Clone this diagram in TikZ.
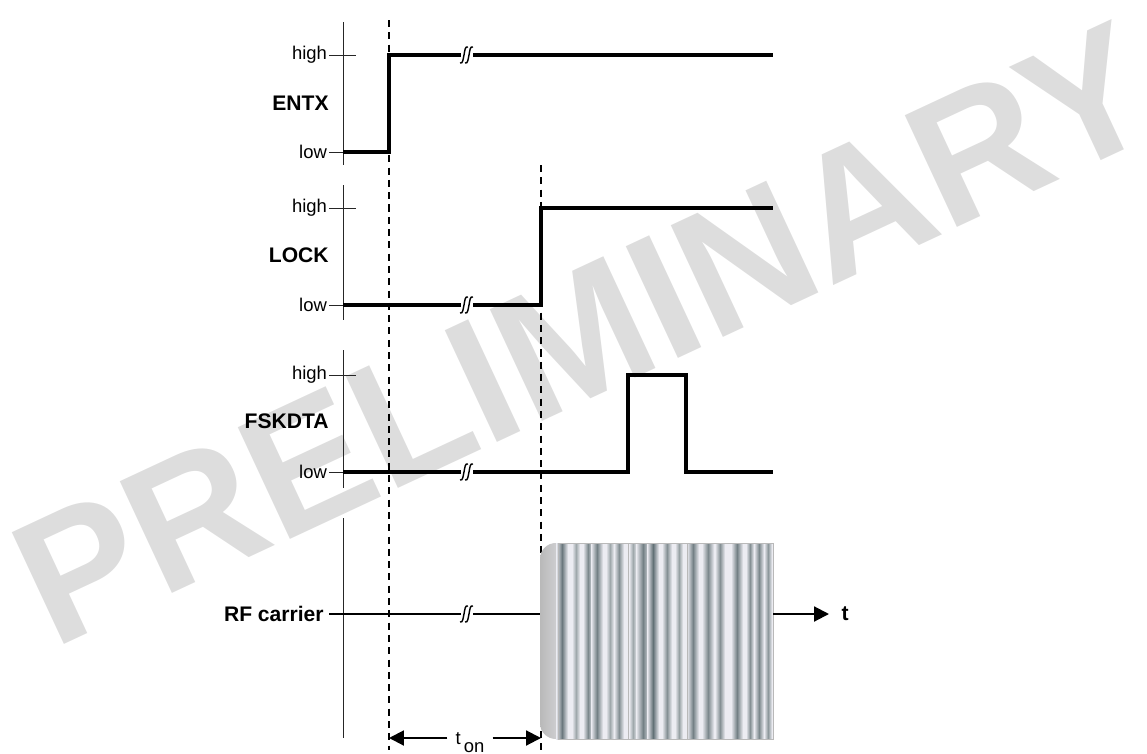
\documentclass[tikz,border=0pt]{standalone}
\usepackage{fontspec}
\setmainfont{Liberation Sans}
\usetikzlibrary{arrows.meta, positioning}

\definecolor{wmark}{RGB}{221,221,221}
\definecolor{stripe}{RGB}{80,96,102}
\definecolor{burst}{RGB}{236,236,242}

% break mark on a signal line
\newcommand{\sigbreak}[2]{%
  \begin{scope}[shift={(#1,#2)}]
    \draw[brkln] (-7,8) .. controls (-4,9) and (-4,4) .. (-3,0) .. controls (-2,-5) and (-2,-9) .. (1,-8);
    \draw[brkln] (-2,8) .. controls (1,9) and (1,4) .. (2,0) .. controls (3,-5) and (3,-9) .. (6,-8);
  \end{scope}}

\begin{document}
\begin{tikzpicture}[x=0.02cm, y=-0.02cm,
  lvl/.style={font=\fontsize{10.5}{12}\selectfont, anchor=east, inner sep=1pt},
  sig/.style={font=\fontsize{12}{14}\selectfont\bfseries, anchor=east, inner sep=0pt},
  axis/.style={line width=0.5pt, black!85},
  wave/.style={line width=2pt, line join=miter},
  guide/.style={line width=1.2pt, dash pattern=on 4pt off 3pt},
  brkln/.style={line width=0.8pt},
  tip/.style={-{Triangle[length=8.5pt, width=8.5pt]}, line width=1.2pt}]

  \useasboundingbox (0,0) rectangle (1147,754);

  % watermark
  \node[text=wmark, font=\fontsize{102}{102}\selectfont\bfseries, rotate=25] (wm) at (584,334) {PRELIMINARY};

  % axes
  \draw[axis] (343,22) -- (343,165);
  \draw[axis] (343,185) -- (343,320);
  \draw[axis] (343,350) -- (343,488);
  \draw[axis] (343,518) -- (343,738);

  % signal names
  \node[sig] (entx) at (329,103) {ENTX};
  \node[sig] (lock) at (329,255) {LOCK};
  \node[sig] (fsk) at (329,421) {FSKDTA};
  \node[sig] (rf) at (324,614) {RF carrier};

  % levels
  \node[lvl] (hiA) at (329,55) {high};
  \node[lvl] (loA) at (329,152) {low};
  \node[lvl] (hiB) at (329,208) {high};
  \node[lvl] (loB) at (329,305) {low};
  \node[lvl] (hiC) at (329,375) {high};
  \node[lvl] (loC) at (329,472) {low};
  \draw[axis] (hiA.east) -- (356,55);
  \draw[axis] (loA.east) -- (343,152);
  \draw[axis] (hiB.east) -- (356,208);
  \draw[axis] (loB.east) -- (343,305);
  \draw[axis] (hiC.east) -- (356,375);
  \draw[axis] (loC.east) -- (343,472);

  % time markers
  \draw[guide] (389,20) -- (389,750);
  \draw[guide] (541,165) -- (541,752);

  % ENTX
  \draw[wave] (343,152) -- (389,152) -- (389,55) -- (461,55);
  \draw[wave] (473,55) -- (773,55);
  \sigbreak{467}{55}

  % LOCK
  \draw[wave] (343,305) -- (461,305);
  \draw[wave] (473,305) -- (541,305) -- (541,208) -- (773,208);
  \sigbreak{467}{305}

  % FSKDTA
  \draw[wave] (343,472) -- (461,472);
  \draw[wave] (473,472) -- (628,472) -- (628,375) -- (686,375) -- (686,472) -- (773,472);
  \sigbreak{467}{472}

  % RF carrier
  \draw[line width=1.3pt] (rf.east) ++(3pt,0) -- (461,614);
  \draw[line width=1.3pt] (473,614) -- (541,614);
  \sigbreak{467}{614}

  % carrier burst
  \shade[left color=gray!55, right color=burst, rounded corners=9pt] (540,543) rectangle (580,739);
  \fill[burst] (558,543) rectangle (773,739);
  \foreach \x/\w/\d in {562/6/85, 576/4/55, 588/5/75, 597/6/80, 610/4/55, 619/5/70,
                        633/4/55, 643/7/80, 653/6/90, 667/5/70, 679/4/60, 693/6/80,
                        708/6/75, 720/5/70, 737/6/80, 750/4/70, 759/5/75, 768/4/65}
    \shade[left color=burst, right color=burst, middle color=stripe!\d!white] (\x-\w,543) rectangle (\x+\w,739);
  \draw[gray!55, line width=0.4pt] (558,543) rectangle (628,739) (628,543) rectangle (687,739) (687,543) rectangle (773,739);

  \coordinate (rfB) at (773,614);
  \coordinate (rfEnd) at (829,614);
  \draw[tip] (rfB) -- (rfEnd);
  \node[font=\fontsize{12}{14}\selectfont\bfseries, right=7pt of rfEnd, inner sep=0pt] (tt) {t};

  % t_on
  \coordinate (tA) at (389,738);
  \coordinate (tB) at (541,738);
  \node[font=\fontsize{10.5}{12}\selectfont, anchor=base, inner sep=4.5pt] (ton) at (470,744) {t\,\raisebox{-0.45em}{on}};
  \draw[tip] (ton.west |- tA) -- (tA);
  \draw[tip] (ton.east |- tB) -- (tB);
\end{tikzpicture}
\end{document}
